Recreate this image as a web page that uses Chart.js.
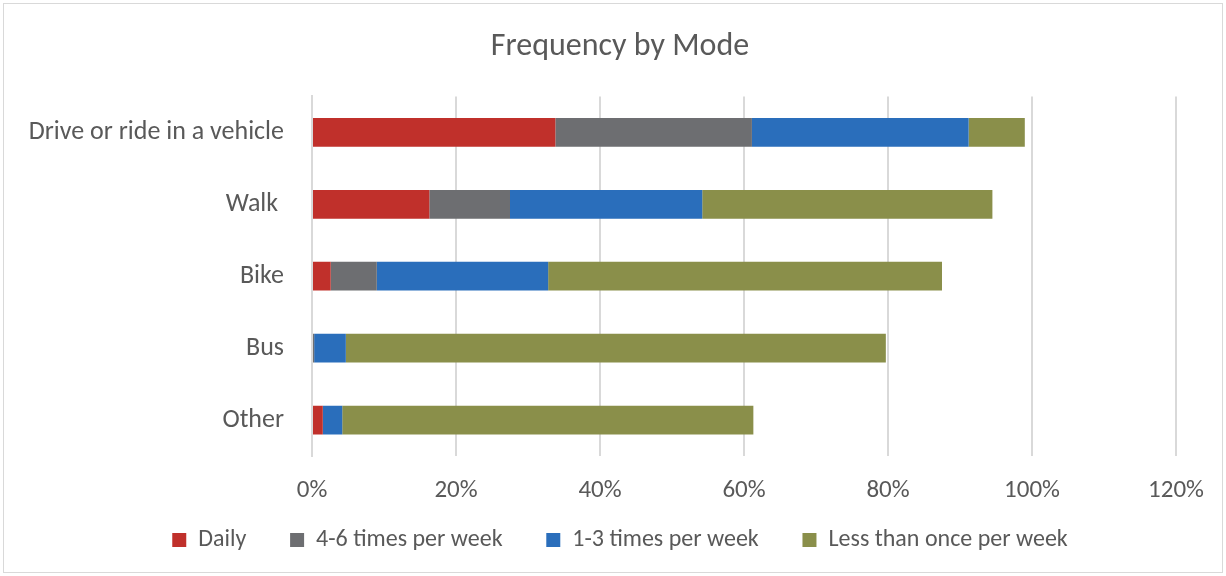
<!DOCTYPE html>
<html>
<head>
<meta charset="utf-8">
<script src="https://cdn.jsdelivr.net/npm/chart.js@4"></script>
<style>
  html, body { margin: 0; padding: 0; background: #fff; }
  #wrap { width: 1226px; height: 576px; }
</style>
</head>
<body>
<div id="wrap"><canvas id="chart"></canvas></div>
<script>
const modes = ['Drive or ride in a vehicle', 'Walk ', 'Bike', 'Bus', 'Other'];
const daily = [33.8, 16.3, 2.6, 0.0, 1.5];
const fourToSix = [27.3, 11.2, 6.4, 0.3, 0.0];
const oneToThree = [30.1, 26.7, 23.8, 4.4, 2.7];
const lessThanOnce = [7.8, 40.3, 54.7, 75.0, 57.1];
const xTicks = [0, 20, 40, 60, 80, 100, 120];

const fontFamily = 'Carlito, Lato, "Open Sans", sans-serif';
const textColor = '#595959';

// light frame round the chart, like the office export
const framePlugin = {
    id: 'frame',
    afterDraw(chart) {
        const ctx = chart.ctx;
        ctx.save();
        ctx.strokeStyle = '#d9d9d9';
        ctx.lineWidth = 1;
        ctx.strokeRect(3.5, 3.5, chart.width - 7, chart.height - 7);
        ctx.restore();
    }
};

const ctx = document.getElementById('chart').getContext('2d');
new Chart(ctx, {
    type: 'bar',
    data: {
        labels: modes,
        datasets: [
            { label: 'Daily', data: daily, backgroundColor: '#C0302B' },
            { label: '4-6 times per week', data: fourToSix, backgroundColor: '#6D6E71' },
            { label: '1-3 times per week', data: oneToThree, backgroundColor: '#2A6EBB' },
            { label: 'Less than once per week', data: lessThanOnce, backgroundColor: '#8A8F4A' },
        ],
    },
    options: {
        indexAxis: 'y',
        responsive: true,
        maintainAspectRatio: false,
        animation: false,
        barPercentage: 0.8,
        categoryPercentage: 0.5,
        layout: { padding: { left: 22, right: 8, top: 14, bottom: 14 } },
        plugins: {
            title: {
                display: true,
                text: 'Frequency by Mode',
                color: textColor,
                font: { family: fontFamily, size: 32, weight: 'normal' },
                padding: { top: 14, bottom: 30 },
            },
            legend: {
                position: 'bottom',
                labels: {
                    color: textColor,
                    font: { family: fontFamily, size: 24 },
                    boxWidth: 14,
                    boxHeight: 14,
                    padding: 22,
                    // keep the vertical padding small but the items spread out
                    generateLabels(chart) {
                        const items = Chart.defaults.plugins.legend.labels.generateLabels(chart);
                        items.forEach((it, i) => {
                            if (i < items.length - 1) it.text = it.text + '    ';
                        });
                        return items;
                    },
                },
            },
            tooltip: { enabled: false },
        },
        scales: {
            x: {
                stacked: true,
                min: 0,
                max: 120,
                afterBuildTicks(scale) {
                    scale.ticks = xTicks.map(v => ({ value: v }));
                },
                ticks: {
                    color: textColor,
                    font: { family: fontFamily, size: 25 },
                    padding: 20,
                    callback: v => v + '%',
                },
                grid: { color: '#d9d9d9', lineWidth: 2, drawTicks: false },
                border: { display: false },
                afterFit(scale) {
                    scale.height = 50;
                    scale.paddingRight = 50;
                },
            },
            y: {
                stacked: true,
                ticks: {
                    color: textColor,
                    font: { family: fontFamily, size: 26 },
                    padding: 20,
                },
                grid: { display: false },
                border: { color: '#d9d9d9', width: 2 },
                afterFit(scale) { scale.width = 290; },
            },
        },
    },
    plugins: [framePlugin],
});
</script>
</body>
</html>
